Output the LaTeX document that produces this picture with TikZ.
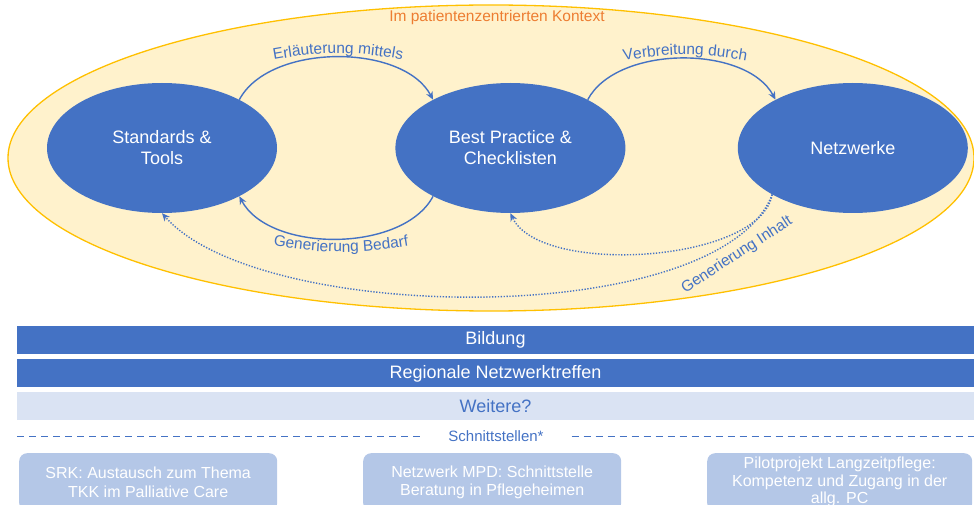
\documentclass[tikz,border=0pt]{standalone}
\usepackage{fontspec}
\setmainfont{Liberation Sans}
\usetikzlibrary{arrows.meta,decorations.text,shapes.geometric,positioning}
\definecolor{ctxfill}{HTML}{FFF2CC}
\definecolor{ctxdraw}{HTML}{FFC000}
\definecolor{ctxtext}{HTML}{ED7D31}
\definecolor{topicblue}{HTML}{4472C4}
\definecolor{paleblue}{HTML}{DAE3F3}
\definecolor{boxblue}{HTML}{B4C7E7}
\tikzset{
	ctx/.style={ellipse, draw=ctxdraw, fill=ctxfill, line width=1.3pt,
		minimum width=966pt, minimum height=306pt},
	topic/.style={ellipse, fill=topicblue, text=white, align=center,
		minimum width=230pt, minimum height=130pt, inner sep=0pt,
		font=\fontsize{18}{21}\selectfont},
	flow/.style={draw=topicblue, line width=1.4pt, -{Stealth[length=8pt,width=7pt]}},
	feedback/.style={flow, dash pattern=on 1.3pt off 1.6pt},
	arclabel/.style={decorate, decoration={text along path, text align=center,
		text={|\fontsize{15.5}{18}\selectfont\color{topicblue}|#1}}},
	bar/.style={fill=topicblue, text=white, minimum width=957pt, minimum height=28pt,
		inner sep=0pt, font=\fontsize{18}{21}\selectfont},
	interface/.style={fill=boxblue, text=white, rounded corners=8pt, align=center,
		minimum width=258pt, minimum height=58pt, inner sep=0pt,
		font=\fontsize{16}{18.5}\selectfont}
}
\begin{document}
\begin{tikzpicture}[x=1pt,y=-1pt]
	\useasboundingbox (0,0) rectangle (974,505);
	\node[ctx] (ctx) at (491,158) {};
	\node[text=ctxtext, font=\fontsize{15.5}{18}\selectfont] (ctxlbl) at (497,17) {Im patientenzentrierten Kontext};

	\node[topic] (std) at (162,148) {Standards \&\\Tools};
	\node[topic, right=118pt of std] (bpc) {Best Practice \&\\Checklisten};
	\node[topic, right=112pt of bpc] (net) {Netzwerke};

	\draw[flow] (std.32) to[out=62,in=118,looseness=0.85] (bpc.148);
	\draw[flow] (bpc.32) to[out=62,in=118,looseness=0.85] (net.148);
	\draw[flow] (bpc.212) to[out=-118,in=-62,looseness=0.85] (std.-32);
	% feedback from the networks
	\draw[feedback] (net.210) to[out=-100,in=-65,looseness=0.68] (bpc.south);
	\draw[feedback] (net.210) .. controls (720,330) and (260,325) .. (std.south);

	\path[arclabel={Erläuterung mittels}] (258,63) to[bend left=12] (418,63);
	\path[arclabel={Verbreitung durch}] (608,64) to[bend left=12] (762,64);
	\path[arclabel={Generierung Bedarf}] (262,244) to[bend right=10] (420,244);
	\node[text=topicblue, rotate=33, font=\fontsize{15.5}{18}\selectfont] (inh) at (737,255) {Generierung Inhalt};

	\node[bar] (bild) at (495.5,340) {Bildung};
	\node[bar, below=5pt of bild] (reg) {Regionale Netzwerktreffen};
	\node[bar, fill=paleblue, text=topicblue, below=4pt of reg] (weit) {Weitere?};

	\node[text=topicblue, inner xsep=28pt, font=\fontsize{15}{17}\selectfont] (sch) at (496,436) {Schnittstellen*};
	\draw[topicblue, dash pattern=on 7pt off 5pt] (17,436) -- (sch.west);
	\draw[topicblue, dash pattern=on 7pt off 5pt] (sch.east) -- (974,436);

	\node[interface, anchor=north west] (srk) at (19,453) {SRK: Austausch zum Thema\\TKK im Palliative Care};
	\node[interface, anchor=north west] (mpd) at (363,453) {Netzwerk MPD: Schnittstelle\\Beratung in Pflegeheimen};
	\node[interface, anchor=north west, minimum width=265pt, font=\fontsize{16}{17.5}\selectfont] (pilot) at (707,453) {Pilotprojekt Langzeitpflege:\\Kompetenz und Zugang in der\\allg. PC};
\end{tikzpicture}
\end{document}
